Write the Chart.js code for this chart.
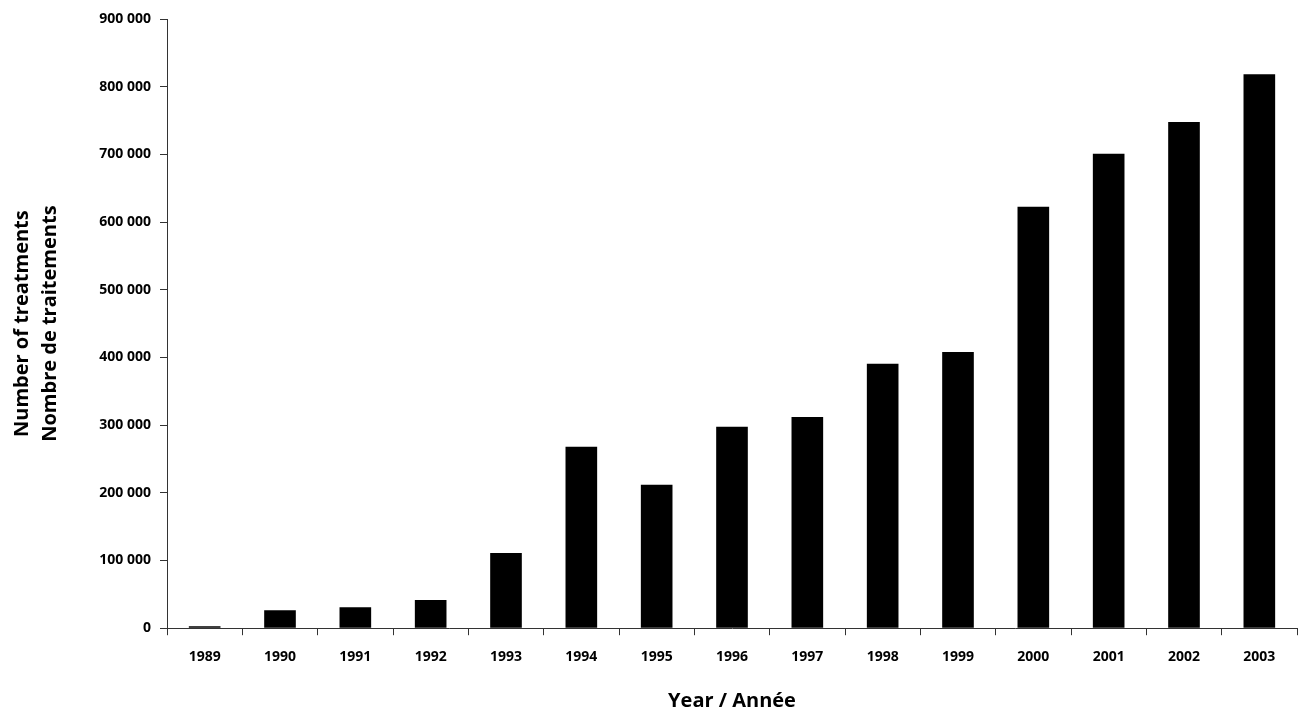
<!DOCTYPE html>
<html lang="fr">
<head>
  <meta charset="UTF-8"/>
  <title>Number of treatments / Nombre de traitements</title>
  <script src="https://cdn.jsdelivr.net/npm/chart.js"></script>
  <style>
    html, body { margin: 0; padding: 0; background: #fff; }
    canvas { display: block; }
  </style>
</head>
<body>
  <canvas id="chart" width="1303" height="713"></canvas>

  <script>
    // data
    const years = ["1989","1990","1991","1992","1993","1994","1995","1996","1997","1998","1999","2000","2001","2002","2003"];
    const treatments = [3000, 26500, 31000, 41500, 111000, 268000, 212000, 297500, 312000, 390500, 408000, 622500, 701000, 748000, 818500];
    const yMax = 900000;
    const yStep = 100000;

    const fontName = "'Open Sans', 'DejaVu Sans', sans-serif";
    const fmt = v => String(v).replace(/\B(?=(\d{3})+(?!\d))/g, " ");

    const ctx = document.getElementById("chart").getContext("2d");
    new Chart(ctx, {
      type: "bar",
      data: {
        labels: years,
        datasets: [{
          data: treatments,
          backgroundColor: "#000",
          borderWidth: 0,
          categoryPercentage: 1,
          barPercentage: 0.42
        }]
      },
      options: {
        responsive: false,
        animation: false,
        layout: { padding: { top: 19, right: 6, bottom: 0, left: 8 } },
        plugins: { legend: { display: false }, tooltip: { enabled: false } },
        scales: {
          x: {
            grid: { display: true, drawOnChartArea: false, tickLength: 7, color: "#333", offset: true },
            border: { color: "#333", width: 1 },
            ticks: { color: "#000", font: { family: fontName, size: 14, weight: "bold" }, padding: 13, maxRotation: 0 },
            title: {
              display: true, text: "Year / Année", color: "#000",
              font: { family: fontName, size: 20, weight: "bold" },
              padding: { top: 11, bottom: 0 }
            }
          },
          y: {
            min: 0, max: yMax,
            grid: { display: true, drawOnChartArea: false, tickLength: 7, color: "#333" },
            border: { color: "#333", width: 1 },
            ticks: {
              stepSize: yStep, color: "#000",
              font: { family: fontName, size: 14, weight: "bold" }, padding: 9,
              callback: v => fmt(v)
            },
            title: {
              display: true, text: ["Number of treatments", "Nombre de traitements"], color: "#000",
              font: { family: fontName, size: 20, weight: "bold", lineHeight: 1.4 },
              padding: { top: 0, bottom: 12 }
            },
            afterFit: s => { s.width = 159; }
          }
        }
      }
    });
  </script>
</body>
</html>
